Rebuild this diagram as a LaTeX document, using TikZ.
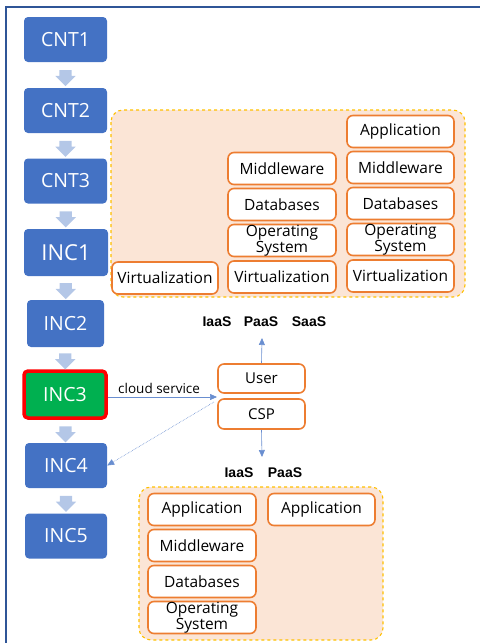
\documentclass[tikz,border=0pt]{standalone}
\usepackage{fontspec}
\setmainfont{Open Sans}
\newfontfamily\modelfont{Liberation Sans}
\usetikzlibrary{shapes.arrows,calc,arrows.meta}

\definecolor{stageblue}{HTML}{4472C4}
\definecolor{stagegreen}{HTML}{00B050}
\definecolor{flowgray}{HTML}{B4C7E7}
\definecolor{layerorange}{HTML}{ED7D31}
\definecolor{zonegold}{HTML}{FFC000}
\definecolor{zonefill}{HTML}{FBE5D6}
\definecolor{framecol}{HTML}{2F5597}

\tikzset{
  stage/.style={fill=stageblue, text=white, rounded corners=4pt, inner sep=0pt,
    minimum width=83pt, minimum height=45pt, font=\fontsize{19.5}{19.5}\selectfont},
  layer/.style={draw=layerorange, line width=1.6pt, fill=white, rounded corners=6pt,
    inner sep=0pt, minimum width=107pt, minimum height=32pt, align=center,
    font=\fontsize{15.5}{16}\selectfont},
  zone/.style={draw=zonegold, dashed, line width=1.1pt, fill=zonefill, rounded corners=12pt},
  flow/.style={single arrow, fill=flowgray, shape border rotate=270, inner xsep=6pt, inner ysep=0pt,
    minimum height=16pt, single arrow head extend=4pt},
  model/.style={font=\modelfont\bfseries\fontsize{14}{14}\selectfont},
  link/.style={draw=stageblue!80, line width=0.6pt, -{Triangle[length=7pt,width=6pt]}}
}

\begin{document}
\begin{tikzpicture}[x=1pt,y=-1pt]
            \useasboundingbox (0,0) rectangle (480,643);
            \draw[framecol, line width=1.5pt] (6,643) -- (6,7) -- (480,7);

            % stages
            \node[stage] (cnt1) at (65.5,39.5) {CNT1};
            \node[stage] (cnt2) at (65.5,110.5) {CNT2};
            \node[stage] (cnt3) at (65.5,181) {CNT3};
            \node[stage, minimum width=84pt, minimum height=47pt, font=\fontsize{22}{22}\selectfont] (inc1) at (66,252.5) {INC1};
            \node[stage, minimum width=77pt, minimum height=47pt] (inc2) at (65.5,323.5) {INC2};
            \node[stage, fill=stagegreen, draw=red, line width=3.5pt, minimum width=82pt, minimum height=47pt] (inc3) at (65,394.5) {INC3};
            \node[stage, minimum width=82pt] (inc4) at (66,465.5) {INC4};
            \node[stage, minimum width=82pt] (inc5) at (66,536) {INC5};

            \foreach \a/\b in {cnt1/cnt2, cnt2/cnt3, cnt3/inc1, inc1/inc2, inc2/inc3, inc3/inc4, inc4/inc5}
              \node[flow] at ($(\a.south)!0.5!(\b.north)$) {};

            % service models
            \draw[zone] (111,110) rectangle (465,297);

            \node[layer] (saasapp) at (400.5,131.5) {Application};
            \node[layer] (saasmid) at (400.5,167.5) {Middleware};
            \node[layer] (saasdb) at (400.5,203.5) {Databases};
            \node[layer] (saasos) at (400.5,239.5) {Operating\\System};
            \node[layer] (saasvirt) at (400.5,276) {Virtualization};

            \node[layer, minimum width=108pt] (paasmid) at (282,168.5) {Middleware};
            \node[layer, minimum width=108pt] (paasdb) at (282,204.5) {Databases};
            \node[layer, minimum width=108pt] (paasos) at (282,240.5) {Operating\\System};
            \node[layer, minimum width=108pt] (paasvirt) at (282,277) {Virtualization};

            \node[layer, minimum width=106pt] (iaasvirt) at (165,278) {Virtualization};

            \node[model] (iaasup) at (217,322) {IaaS};
            \node[model] (paasup) at (261,322) {PaaS};
            \node[model] (saasup) at (309,322) {SaaS};

            % user and provider
            \node[layer, minimum width=87pt, minimum height=29pt, font=\fontsize{15}{15}\selectfont] (user) at (261.5,378.5) {User};
            \node[layer, minimum width=87pt, minimum height=30pt, font=\fontsize{15}{15}\selectfont] (csp) at (261.5,414) {CSP};

            \coordinate (uptip) at (262,338);
            \coordinate (downtip) at (262,457);
            \coordinate (svctip) at (217,397);
            \coordinate (csptail) at (214,402);

            \draw[link] (user.north) -- (uptip);
            \draw[link] (csp.south) -- (downtip);
            \draw[link] (inc3.east |- svctip) -- node[above, font=\fontsize{13.5}{13.5}\selectfont, pos=0.47] (svclabel) {cloud service} (svctip);
            \draw[link, densely dotted] (csptail) -- (inc4.east);

            \node[model] (iaasdown) at (239,473) {IaaS};
            \node[model] (paasdown) at (285,473) {PaaS};

            % customer managed layers
            \draw[zone] (139,487) rectangle (383,640);

            \node[layer, minimum width=108pt] (iaasapp) at (202,509.5) {Application};
            \node[layer, minimum width=108pt] (iaasmid) at (202,545.5) {Middleware};
            \node[layer, minimum width=108pt] (iaasdb) at (202,581.5) {Databases};
            \node[layer, minimum width=108pt] (iaasos) at (202,617.5) {Operating\\System};
            \node[layer] (paasapp) at (321.5,509.5) {Application};
\end{tikzpicture}
\end{document}
